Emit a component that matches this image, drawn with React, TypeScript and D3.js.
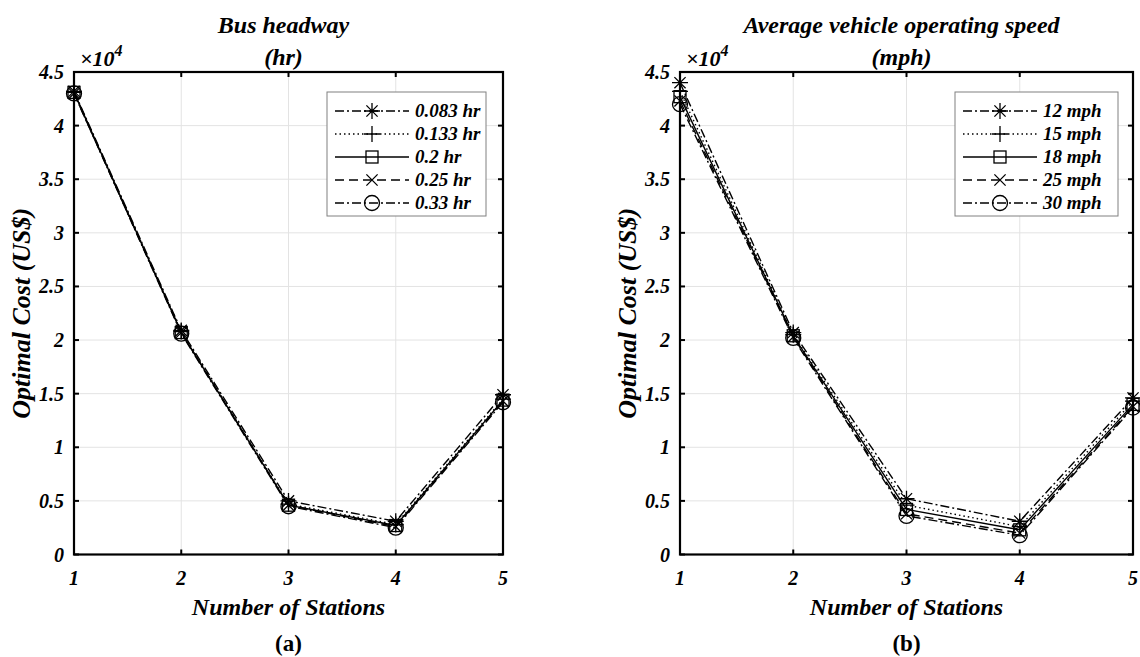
import React from 'react';
import * as d3 from 'd3';

// stations on the x axis
const stations = [1, 2, 3, 4, 5];
const yTicks = [0, 0.5, 1, 1.5, 2, 2.5, 3, 3.5, 4, 4.5];
const yTickLabels = ['0', '0.5', '1', '1.5', '2', '2.5', '3', '3.5', '4', '4.5'];

// (a) bus headway, cost in 1e4 US$
const headwayNames = ['0.083 hr', '0.133 hr', '0.2 hr', '0.25 hr', '0.33 hr'];
const headway083 = [4.32, 2.09, 0.50, 0.31, 1.49];
const headway133 = [4.31, 2.08, 0.47, 0.28, 1.45];
const headway200 = [4.31, 2.07, 0.46, 0.27, 1.44];
const headway250 = [4.30, 2.07, 0.46, 0.26, 1.43];
const headway330 = [4.30, 2.06, 0.45, 0.25, 1.42];

// (b) average operating speed
const speedNames = ['12 mph', '15 mph', '18 mph', '25 mph', '30 mph'];
const speed12 = [4.40, 2.07, 0.52, 0.31, 1.46];
const speed15 = [4.32, 2.05, 0.46, 0.26, 1.43];
const speed18 = [4.27, 2.04, 0.42, 0.23, 1.40];
const speed25 = [4.23, 2.03, 0.38, 0.20, 1.38];
const speed30 = [4.20, 2.02, 0.36, 0.18, 1.37];

const styles = [
  { dash: '9,3,2,3', marker: 'star' },
  { dash: '1.5,3', marker: 'plus' },
  { dash: null, marker: 'square' },
  { dash: '9,5', marker: 'x' },
  { dash: '9,3,2,3', marker: 'circle' },
];

const font = '"Liberation Serif", "Times New Roman", serif';

function Marker({ type, x, y }) {
  const r = 8;
  const a = 5.6;
  const common = { fill: 'none', stroke: '#000', strokeWidth: 1.3 };
  if (type === 'circle') return <circle cx={x} cy={y} r={7.5} {...common} />;
  if (type === 'square') return <rect x={x - 6} y={y - 6} width={12} height={12} {...common} />;
  let d = '';
  if (type === 'plus' || type === 'star') d += `M${x},${y - r}V${y + r}M${x - r},${y}H${x + r}`;
  if (type === 'x' || type === 'star') d += `M${x - a},${y - a}L${x + a},${y + a}M${x - a},${y + a}L${x + a},${y - a}`;
  return <path d={d} {...common} />;
}

function Panel({ x0, x1, y0, y1, title1, title2, names, series, legendX, legendW, tag }) {
  const x = d3.scaleLinear().domain([1, 5]).range([x0, x1]);
  const y = d3.scaleLinear().domain([0, 4.5]).range([y1, y0]);
  const line = d3.line<number>().x((d, i) => x(stations[i])).y(d => y(d));
  const cx = (x0 + x1) / 2;
  const cy = (y0 + y1) / 2;
  const tick = 5;
  const legendY = 92;
  const rowH = 23;
  return (
    <g fontFamily={font}>
      {/* grid */}
      {stations.map(s => (
        <line key={'gx' + s} x1={x(s)} x2={x(s)} y1={y0} y2={y1} stroke="#e3e3e3" strokeWidth={1} />
      ))}
      {yTicks.map(t => (
        <line key={'gy' + t} x1={x0} x2={x1} y1={y(t)} y2={y(t)} stroke="#e3e3e3" strokeWidth={1} />
      ))}
      {/* data lines */}
      {series.map((s, i) => (
        <path key={'l' + i} d={line(s)} fill="none" stroke="#000" strokeWidth={1.4}
          strokeDasharray={styles[i].dash || undefined} />
      ))}
      {series.map((s, i) => s.map((v, j) => (
        <Marker key={'m' + i + '-' + j} type={styles[i].marker} x={x(stations[j])} y={y(v)} />
      )))}
      {/* ticks on all sides */}
      {stations.map(s => (
        <g key={'tx' + s}>
          <line x1={x(s)} x2={x(s)} y1={y1} y2={y1 - tick} stroke="#000" strokeWidth={2} />
          <line x1={x(s)} x2={x(s)} y1={y0} y2={y0 + tick} stroke="#000" strokeWidth={2} />
          <text x={x(s)} y={y1 + 30} textAnchor="middle" fontSize={20} fontWeight="bold" fontStyle="italic">{s}</text>
        </g>
      ))}
      {yTicks.map((t, i) => (
        <g key={'ty' + t}>
          <line x1={x0} x2={x0 + tick} y1={y(t)} y2={y(t)} stroke="#000" strokeWidth={2} />
          <line x1={x1} x2={x1 - tick} y1={y(t)} y2={y(t)} stroke="#000" strokeWidth={2} />
          <text x={x0 - 10} y={y(t) + 7} textAnchor="end" fontSize={20} fontWeight="bold" fontStyle="italic">{yTickLabels[i]}</text>
        </g>
      ))}
      <rect x={x0} y={y0} width={x1 - x0} height={y1 - y0} fill="none" stroke="#000" strokeWidth={2.2} />
      {/* exponent */}
      <text x={x0 + 6} y={y0 - 6} fontSize={22} fontStyle="italic" fontWeight="bold">
        ×10<tspan dy={-10} fontSize={16}>4</tspan>
      </text>
      {/* legend */}
      <rect x={legendX} y={legendY} width={legendW} height={rowH * 5 + 9} fill="#fff" stroke="#808080" strokeWidth={1} />
      {names.map((n, i) => {
        const ry = legendY + 19 + i * rowH;
        return (
          <g key={'lg' + i}>
            <line x1={legendX + 8} x2={legendX + 82} y1={ry} y2={ry} stroke="#000" strokeWidth={1.4}
              strokeDasharray={styles[i].dash || undefined} />
            <Marker type={styles[i].marker} x={legendX + 45} y={ry} />
            <text x={legendX + 88} y={ry + 6} fontSize={19} fontWeight="bold" fontStyle="italic">{n}</text>
          </g>
        );
      })}
      {/* titles and labels */}
      <text x={cx - 5} y={33} textAnchor="middle" fontSize={24} fontWeight="bold" fontStyle="italic">{title1}</text>
      <text x={cx - 5} y={65} textAnchor="middle" fontSize={24} fontWeight="bold" fontStyle="italic">{title2}</text>
      <text x={cx} y={615} textAnchor="middle" fontSize={24} fontWeight="bold" fontStyle="italic">Number of Stations</text>
      <text transform={`translate(${x0 - 44},${cy}) rotate(-90)`} textAnchor="middle" fontSize={26}
        fontWeight="bold" fontStyle="italic">Optimal Cost (US$)</text>
      <text x={cx} y={651} textAnchor="middle" fontSize={23} fontWeight="bold">{tag}</text>
    </g>
  );
}

export default function App() {
  return (
    <svg width={1140} height={657} style={{ position: 'absolute', left: 0, top: 0, background: '#fff' }}>
      <rect width={1140} height={657} fill="#fff" />
      <Panel x0={74} x1={503} y0={72} y1={554.5} title1="Bus headway" title2="(hr)"
        names={headwayNames} series={[headway083, headway133, headway200, headway250, headway330]}
        legendX={327} legendW={159} tag="(a)" />
      <Panel x0={680} x1={1133} y0={72} y1={554.5} title1="Average vehicle operating speed" title2="(mph)"
        names={speedNames} series={[speed12, speed15, speed18, speed25, speed30]}
        legendX={955} legendW={163} tag="(b)" />
    </svg>
  );
}
